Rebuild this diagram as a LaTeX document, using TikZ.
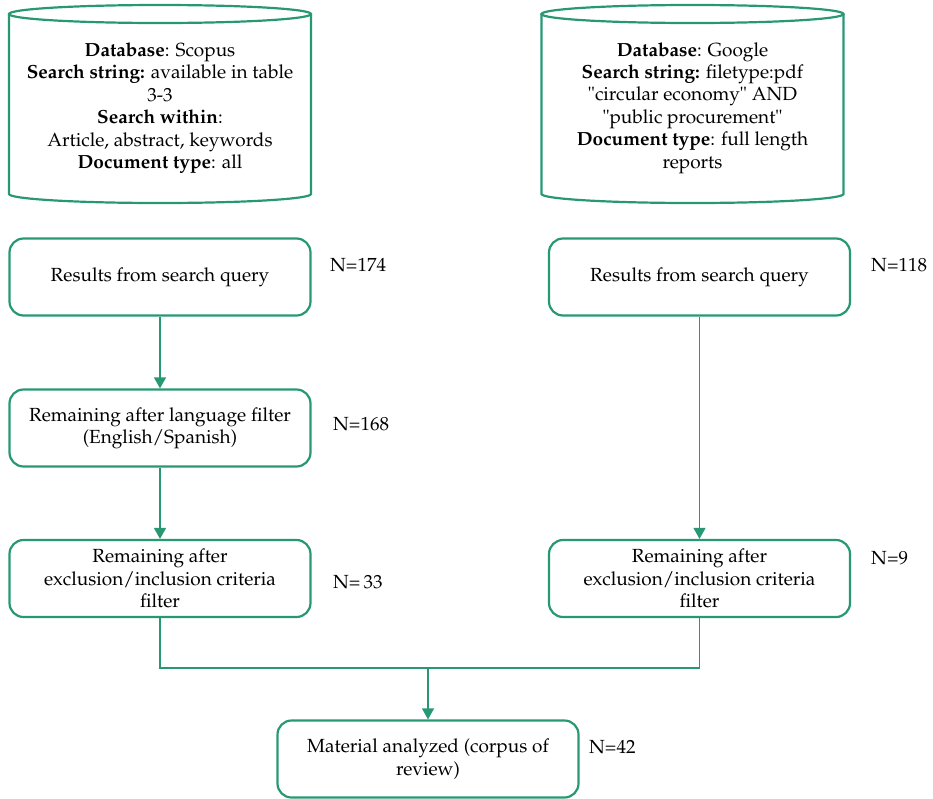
\documentclass[tikz,border=0pt]{standalone}
\usepackage[T1]{fontenc}
\usepackage{mathpazo}
\usetikzlibrary{arrows.meta}
\definecolor{flowgreen}{RGB}{40,152,116}
\tikzset{
  txt/.style={font=\fontsize{19}{22.4}\selectfont, text=black, align=center},
  stepbox/.style={txt, draw=flowgreen, line width=2.2pt, rounded corners=14pt,
                  minimum width=301pt, minimum height=77pt, inner sep=0pt},
  dbtext/.style={txt, minimum width=302pt, minimum height=198pt, inner sep=0pt},
  dbline/.style={draw=flowgreen, line width=2.2pt},
  link/.style={draw=flowgreen, line width=1.3pt},
  arrow/.style={link, -{Triangle[length=11pt,width=12pt]}},
  count/.style={txt, anchor=west, inner sep=0pt}
}
\newcommand{\cylinderat}[3]{%
  % #1 centre x, #2 top ellipse y, #3 bottom ellipse y
  \draw[dbline] (#1,#2) ellipse [x radius=151, y radius=9];
  \draw[dbline] (#1-151,#2) -- (#1-151,#3)
        arc [start angle=180, end angle=0, x radius=151, y radius=9]
        -- (#1+151,#2);
}
\begin{document}
\begin{tikzpicture}[x=1pt, y=-1pt]
\useasboundingbox (0,0) rectangle (933,798);

% database cylinders
\cylinderat{160}{14}{194}
\cylinderat{692.5}{14}{194}
\node[dbtext] (db1) at (160,108) {\textbf{Database}: Scopus\\
  \textbf{Search string:} available in table\\ 3-3\\
  \textbf{Search within}:\\ Article, abstract, keywords\\
  \textbf{Document type}: all};
\node[dbtext] (db2) at (692.5,108) {\textbf{Database}: Google\\
  \textbf{Search string:} filetype:pdf\\
  \textquotedbl circular economy\textquotedbl{} AND\\
  \textquotedbl public procurement\textquotedbl\\
  \textbf{Document type}: full length\\ reports};

% left branch
\node[stepbox] (l1) at (160,277) {Results from search query};
\node[stepbox] (l2) at (160,428) {Remaining after language filter\\ (English/Spanish)};
\node[stepbox] (l3) at (160,578.5) {Remaining after\\ exclusion/inclusion criteria\\ filter};

% right branch
\node[stepbox] (r1) at (699.5,277) {Results from search query};
\node[stepbox] (r3) at (699.5,578.5) {Remaining after\\ exclusion/inclusion criteria\\ filter};

% final box
\node[stepbox] (fin) at (428,759) {Material analyzed (corpus of\\ review)};

% counts
\node[count] (n1) at (330,265) {N=174};
\node[count] (n2) at (333,424) {N=168};
\node[count] (n3) at (333,582) {N=\,33};
\node[count] (n4) at (871,265) {N=118};
\node[count] (n5) at (871,558) {N=9};
\node[count] (n6) at (589,747) {N=42};

% connectors
\draw[arrow] (l1) -- (l2);
\draw[arrow] (l2) -- (l3);
\draw[arrow] (r1) -- (r3);
\coordinate (join) at (fin.north |- 0,668);
\draw[link] (l3.south) -- (l3.south |- join) -- (r3.south |- join) -- (r3.south);
\draw[arrow] (join) -- (fin.north);
\end{tikzpicture}
\end{document}
